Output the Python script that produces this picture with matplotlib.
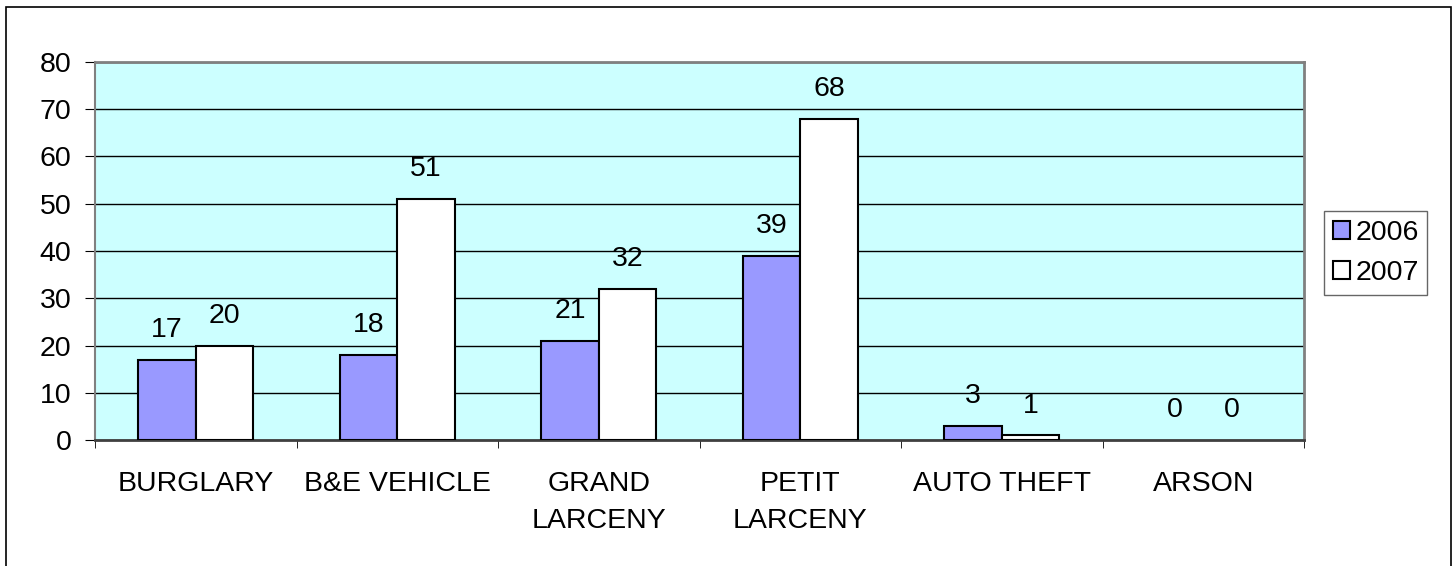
import matplotlib
matplotlib.use("Agg")
import matplotlib.pyplot as plt
import numpy as np
from matplotlib.patches import Rectangle

plt.rcParams['font.family'] = ['Liberation Sans', 'DejaVu Sans']

categories = ["BURGLARY", "B&E VEHICLE", "GRAND\nLARCENY", "PETIT\nLARCENY", "AUTO THEFT", "ARSON"]
series_names = ["2006", "2007"]
values_2006 = [17, 18, 21, 39, 3, 0]
values_2007 = [20, 51, 32, 68, 1, 0]
y_ticks = [0, 10, 20, 30, 40, 50, 60, 70, 80]

FS = 20.5
W, H = 1455, 566
fig = plt.figure(figsize=(W / 100, H / 100), dpi=100)
fig.patch.set_facecolor("white")

# outer border
fig.add_artist(Rectangle((5.5 / W, -0.01), (1451 - 5.5) / W, (H - 7) / H + 0.01,
                         transform=fig.transFigure, fill=False, edgecolor="black", linewidth=1.2))

left, right, top, bottom = 95, 1304, 62, 440
ax = fig.add_axes([left / W, 1 - bottom / H, (right - left) / W, (bottom - top) / H])
ax.set_facecolor("#CCFFFF")

x = np.arange(len(categories))
bw = 1 / 3.5
lw1 = [1.5 if v > 0 else 0 for v in values_2006]
lw2 = [1.5 if v > 0 else 0 for v in values_2007]
b1 = ax.bar(x - bw / 2, values_2006, bw, color="#9999FF", edgecolor="black", linewidth=lw1, zorder=3, label=series_names[0])
b2 = ax.bar(x + bw / 2, values_2007, bw, color="white", edgecolor="black", linewidth=lw2, zorder=3, label=series_names[1])

for bars in (b1, b2):
    for rect in bars:
        v = rect.get_height()
        ax.annotate(f"{int(v)}", (rect.get_x() + rect.get_width() / 2, v), xytext=(0, 12),
                    textcoords="offset points", ha="center", va="bottom", fontsize=FS, zorder=4)

ax.set_xlim(-0.5, len(categories) - 0.5)
ax.set_ylim(0, 80)
ax.set_yticks(y_ticks)
ax.set_yticklabels([str(t) for t in y_ticks], fontsize=FS)
ax.yaxis.grid(True, color="black", linewidth=1.0, zorder=1)
ax.set_axisbelow(True)

ax.set_xticks(x)
ax.set_xticklabels(categories, fontsize=FS, linespacing=1.55)
ax.set_xticks(np.arange(-0.5, len(categories), 1), minor=True)
ax.tick_params(axis="x", which="major", length=0, pad=22)
ax.tick_params(axis="x", which="minor", length=6, direction="out", color="black")
ax.tick_params(axis="y", length=7, direction="out", color="black", pad=10)

for s in ("top", "right"):
    ax.spines[s].set_color("#808080")
    ax.spines[s].set_linewidth(2)
ax.spines["left"].set_color("#808080")
ax.spines["left"].set_linewidth(1.5)
ax.spines["bottom"].set_color("#404040")
ax.spines["bottom"].set_linewidth(2)

leg = fig.legend(handles=[b1, b2], labels=series_names, loc="center left",
                 bbox_to_anchor=(1324 / W, 1 - 253 / H), fontsize=FS, frameon=True,
                 fancybox=False, edgecolor="#404040", handlelength=0.62, handleheight=0.6,
                 handletextpad=0.18, borderpad=0.3, labelspacing=0.5, borderaxespad=0)
leg.get_frame().set_linewidth(1.0)

fig.savefig("out.png", dpi=100)
